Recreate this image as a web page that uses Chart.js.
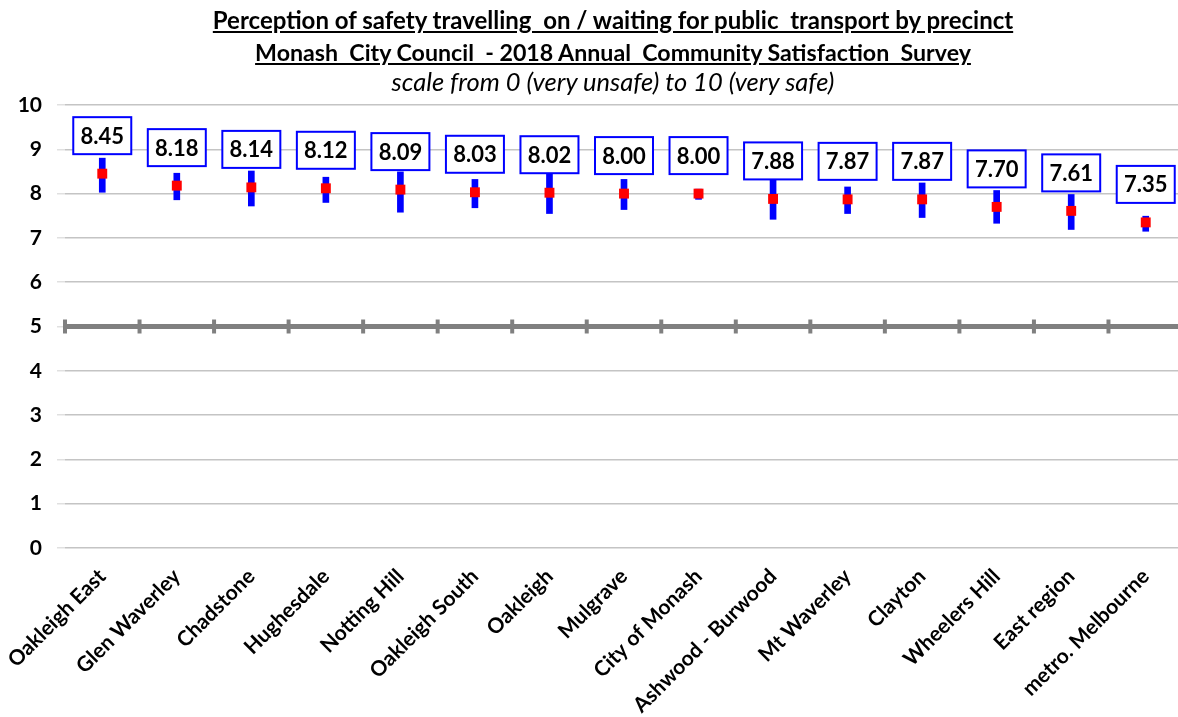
<!DOCTYPE html>
<html>
<head>
<meta charset="utf-8">
<script src="https://cdn.jsdelivr.net/npm/chart.js@4"></script>
<style>
  html, body { margin: 0; padding: 0; background: #fff; overflow: hidden; }
  #wrap { position: relative; width: 1178px; height: 717px; overflow: hidden; }
  #chart { position: absolute; left: 0; top: 0; }
  .title { position: absolute; left: 613px; transform: translateX(-50%); white-space: pre;
           font-family: Lato, "Liberation Sans", sans-serif; color: #000; line-height: 30px; }
  .t1 { top: 5px; font-size: 24px; font-weight: bold; text-decoration: underline; }
  .t2 { top: 37px; font-size: 23.2px; font-weight: bold; text-decoration: underline; }
  .t3 { top: 66px; font-size: 25.5px; font-style: italic; }
</style>
</head>
<body>
<div id="wrap">
  <!-- canvas is a little wider than the window so the plot runs off the right edge, as in the source -->
  <canvas id="chart" width="1190" height="717"></canvas>
  <div class="title t1">Perception of safety travelling  on / waiting for public  transport by precinct</div>
  <div class="title t2">Monash  City Council  - 2018 Annual  Community Satisfaction  Survey</div>
  <div class="title t3">scale from 0 (very unsafe) to 10 (very safe)</div>
</div>
<script>
const precincts = ['Oakleigh East', 'Glen Waverley', 'Chadstone', 'Hughesdale', 'Notting Hill',
  'Oakleigh South', 'Oakleigh', 'Mulgrave', 'City of Monash', 'Ashwood - Burwood',
  'Mt Waverley', 'Clayton', 'Wheelers Hill', 'East region', 'metro. Melbourne'];
const meanScore = [8.45, 8.18, 8.14, 8.12, 8.09, 8.03, 8.02, 8.00, 8.00, 7.88, 7.87, 7.87, 7.70, 7.61, 7.35];
const lowerCI = [8.03, 7.86, 7.72, 7.80, 7.58, 7.68, 7.55, 7.64, 7.87, 7.42, 7.55, 7.46, 7.33, 7.19, 7.15];
const upperCI = [8.80, 8.46, 8.51, 8.37, 8.49, 8.32, 8.46, 8.32, 8.10, 8.32, 8.15, 8.24, 8.07, 7.98, 7.49];
const yTicks = [0, 1, 2, 3, 4, 5, 6, 7, 8, 9, 10];
const midpoint = 5;

const FONT = 'Lato, "Liberation Sans", sans-serif';

// thick grey line at the scale midpoint, with a tick at each category boundary
const midLine = {
  id: 'midLine',
  beforeDatasetsDraw(chart) {
    const { ctx, chartArea, scales } = chart;
    const y = scales.y.getPixelForValue(midpoint);
    ctx.save();
    ctx.strokeStyle = '#808080';
    ctx.lineWidth = 5;
    ctx.beginPath();
    ctx.moveTo(chartArea.left, y);
    ctx.lineTo(chartArea.right, y);
    ctx.stroke();
    ctx.lineWidth = 4;
    for (let i = 0; i <= precincts.length; i++) {
      const x = scales.x.getPixelForValue(i - 0.5);
      ctx.beginPath();
      ctx.moveTo(x, y - 7);
      ctx.lineTo(x, y + 7);
      ctx.stroke();
    }
    ctx.restore();
  }
};

// boxed value labels above each mean
const valueBoxes = {
  id: 'valueBoxes',
  afterDatasetsDraw(chart) {
    const { ctx, scales } = chart;
    ctx.save();
    ctx.font = 'bold 22px ' + FONT;
    ctx.textAlign = 'center';
    ctx.textBaseline = 'middle';
    meanScore.forEach((v, i) => {
      const cx = scales.x.getPixelForValue(i);
      const bottom = scales.y.getPixelForValue(v) - 19.5;
      const w = 58, h = 37;
      ctx.fillStyle = '#fff';
      ctx.fillRect(cx - w / 2, bottom - h, w, h);
      ctx.strokeStyle = '#0000ff';
      ctx.lineWidth = 2;
      ctx.strokeRect(cx - w / 2, bottom - h, w, h);
      ctx.fillStyle = '#000';
      ctx.fillText(v.toFixed(2), cx, bottom - h / 2 + 1);
    });
    ctx.restore();
  }
};

new Chart(document.getElementById('chart'), {
  type: 'bar',
  data: {
    labels: precincts,
    datasets: [
      {
        type: 'line',
        label: 'Mean',
        data: meanScore,
        showLine: false,
        pointStyle: 'rect',
        pointRadius: 7,
        pointHoverRadius: 7,
        pointBackgroundColor: '#ff0000',
        pointBorderColor: '#ff0000',
        pointBorderWidth: 0,
        order: 0
      },
      {
        label: '95% confidence interval',
        data: lowerCI.map((lo, i) => [lo, upperCI[i]]),
        backgroundColor: '#0000ff',
        barThickness: 6,
        order: 1
      }
    ]
  },
  options: {
    responsive: false,
    animation: false,
    layout: { padding: { top: 105, left: 0, right: 0, bottom: 0 } },
    plugins: {
      legend: { display: false },
      tooltip: { enabled: false }
    },
    scales: {
      x: {
        border: { display: false },
        grid: { display: false },
        ticks: {
          color: '#000',
          font: { family: FONT, size: 21, weight: 'bold' },
          maxRotation: 45,
          minRotation: 45,
          autoSkip: false,
          padding: 8
        },
        afterFit(scale) {
          scale.height = 169;
          scale.paddingLeft = 0;
          scale.paddingRight = 0;
        }
      },
      y: {
        min: 0,
        max: 10,
        border: { display: false },
        grid: { color: '#c4c4c4', lineWidth: 1.5, tickLength: 8, tickColor: '#e0e0e0' },
        afterBuildTicks(scale) { scale.ticks = yTicks.map(v => ({ value: v })); },
        ticks: {
          color: '#000',
          font: { family: FONT, size: 21, weight: 'bold' },
          padding: 15
        },
        afterFit(scale) { scale.width = 65; }
      }
    }
  },
  plugins: [midLine, valueBoxes]
});
</script>
</body>
</html>
